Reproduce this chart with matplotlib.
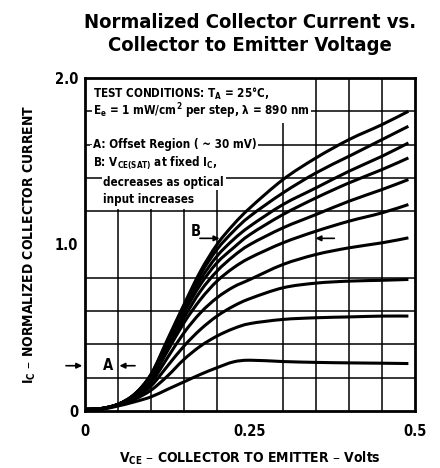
import os
import matplotlib
matplotlib.use("Agg")
import matplotlib.pyplot as plt
from matplotlib import font_manager as fm
from matplotlib.path import Path
from matplotlib.patches import PathPatch, Rectangle
import numpy as np

plt.rcParams['mathtext.default'] = 'regular'

# ---- data ----
vce = [0, 0.025, 0.05, 0.075, 0.1, 0.125, 0.15, 0.175, 0.2, 0.225, 0.25, 0.3, 0.35, 0.4, 0.45, 0.49]

ic_1 = [0.01, 0.015, 0.04, 0.10, 0.22, 0.43, 0.64, 0.84, 1.00, 1.12, 1.22, 1.39, 1.52, 1.63, 1.72, 1.80]
ic_2 = [0.01, 0.015, 0.04, 0.10, 0.22, 0.42, 0.62, 0.82, 0.97, 1.08, 1.17, 1.31, 1.43, 1.53, 1.63, 1.71]
ic_3 = [0.01, 0.015, 0.04, 0.10, 0.215, 0.41, 0.61, 0.79, 0.93, 1.03, 1.11, 1.24, 1.34, 1.44, 1.53, 1.61]
ic_4 = [0.01, 0.015, 0.04, 0.10, 0.21, 0.40, 0.59, 0.76, 0.89, 0.98, 1.06, 1.18, 1.28, 1.37, 1.45, 1.52]
ic_5 = [0.01, 0.015, 0.04, 0.095, 0.20, 0.38, 0.56, 0.72, 0.84, 0.93, 1.00, 1.10, 1.18, 1.26, 1.33, 1.39]
ic_6 = [0.01, 0.015, 0.04, 0.09, 0.19, 0.36, 0.53, 0.67, 0.78, 0.86, 0.92, 1.01, 1.08, 1.14, 1.19, 1.24]
ic_7 = [0.01, 0.015, 0.04, 0.085, 0.17, 0.32, 0.47, 0.59, 0.68, 0.745, 0.79, 0.88, 0.94, 0.98, 1.01, 1.04]
ic_8 = [0.008, 0.013, 0.037, 0.08, 0.15, 0.27, 0.39, 0.49, 0.57, 0.63, 0.675, 0.74, 0.768, 0.78, 0.785, 0.79]
ic_9 = [0.005, 0.012, 0.035, 0.07, 0.125, 0.21, 0.31, 0.39, 0.45, 0.495, 0.525, 0.55, 0.56, 0.565, 0.57, 0.57]
ic_10 = [0.0, 0.01, 0.03, 0.055, 0.085, 0.13, 0.175, 0.22, 0.26, 0.295, 0.305, 0.297, 0.292, 0.289, 0.287, 0.285]
curves = [ic_1, ic_2, ic_3, ic_4, ic_5, ic_6, ic_7, ic_8, ic_9, ic_10]

x_ticks = [0, 0.25, 0.5]
x_ticklabels = ['0', '0.25', '0.5']
y_ticks = [0, 1.0, 2.0]
y_ticklabels = ['0', '1.0', '2.0']

title_text = 'Normalized Collector Current vs.\nCollector to Emitter Voltage'
xlabel_text = r'V$_{CE}$ – COLLECTOR TO EMITTER – Volts'
ylabel_text = r'I$_C$ – NORMALIZED COLLECTOR CURRENT'
note_lines = [r'TEST CONDITIONS: T$_A$ = 25°C,',
              r'E$_e$ = 1 mW/cm$^2$ per step, λ = 890 nm',
              r'A: Offset Region ( ~ 30 mV)',
              r'B: V$_{CE(SAT)}$ at fixed I$_C$,',
              'decreases as optical',
              'input increases']


# ---- font: prefer a condensed / narrow face if installed ----
def find_narrow(bold):
    hits = []
    for f in fm.fontManager.ttflist:
        base = os.path.basename(f.fname).lower()
        if not base.endswith(('.ttf', '.otf')):
            continue
        if ('condensed' in base or 'narrow' in base) and 'mono' not in base \
                and 'oblique' not in base and 'italic' not in base:
            if ('bold' in base) == bold:
                hits.append(f.fname)
    hits.sort(key=lambda p: (0 if 'dejavu' in p.lower() else 1, p))
    return hits[0] if hits else None


bold_file = find_narrow(True)
COND = bold_file is not None


def fp(size):
    if COND:
        return fm.FontProperties(fname=bold_file, size=size)
    return fm.FontProperties(family='DejaVu Sans', weight='bold', size=size * 0.88)


def smooth_path(xs, ys):
    pts = np.column_stack([xs, ys]).astype(float)
    verts = [pts[0]]
    codes = [Path.MOVETO]
    n = len(pts)
    for i in range(n - 1):
        p0 = pts[i - 1] if i > 0 else pts[i]
        p1 = pts[i]
        p2 = pts[i + 1]
        p3 = pts[i + 2] if i + 2 < n else pts[i + 1]
        verts += [p1 + (p2 - p0) / 6.0, p2 - (p3 - p1) / 6.0, p2]
        codes += [Path.CURVE4] * 3
    return Path(verts, codes)


# ---- figure ----
fig = plt.figure(figsize=(4.4, 4.68), dpi=100)
ax = fig.add_axes([85/440, 1-411/468, 330/440, 333/468])
ax.set_xlim(0, 0.5)
ax.set_ylim(0, 2.0)

ax.set_xticks(np.arange(0, 0.5001, 0.05), minor=True)
ax.set_yticks(np.arange(0, 2.0001, 0.2), minor=True)
ax.grid(True, which='minor', color='black', lw=1.1)
ax.set_xticks(x_ticks)
ax.set_xticklabels(x_ticklabels)
ax.set_yticks(y_ticks)
ax.set_yticklabels(y_ticklabels)
ax.tick_params(which='both', length=0)
ax.tick_params(axis='x', pad=9)
ax.tick_params(axis='y', pad=5)
for lab in ax.get_xticklabels() + ax.get_yticklabels():
    lab.set_fontproperties(fp(10.5))
for sp in ax.spines.values():
    sp.set_linewidth(2.0)
    sp.set_zorder(6)

for c in curves:
    ax.add_patch(PathPatch(smooth_path(vce, c), facecolor='none', edgecolor='black',
                           lw=2.2, joinstyle='round', capstyle='butt', zorder=3))

# white area behind the notes (grid hidden there)
wkw = dict(facecolor='white', edgecolor='none', zorder=2.5)
ax.add_patch(Rectangle((0.008, 1.815), 0.325, 0.18, **wkw))
ax.add_patch(Rectangle((0.008, 1.615), 0.262, 0.18, **wkw))
ax.add_patch(Rectangle((0.008, 1.415), 0.222, 0.18, **wkw))
ax.add_patch(Rectangle((0.008, 1.215), 0.19, 0.18, **wkw))

# annotation text block
tkw = dict(color='black', zorder=5, va='center', ha='left',
           bbox=dict(facecolor='white', edgecolor='none', pad=1.0))
ns = 8.4
ax.text(0.012, 1.905, note_lines[0], fontproperties=fp(ns), **tkw)
ax.text(0.012, 1.80, note_lines[1], fontproperties=fp(ns), **tkw)
ax.text(0.012, 1.60, note_lines[2], fontproperties=fp(ns), **tkw)
ax.text(0.012, 1.49, note_lines[3], fontproperties=fp(ns), **tkw)
ax.text(0.028, 1.375, note_lines[4], fontproperties=fp(ns), **tkw)
ax.text(0.028, 1.27, note_lines[5], fontproperties=fp(ns), **tkw)

# A markers
akw = dict(arrowstyle='-|>', color='black', lw=1.2, mutation_scale=8)
ax.annotate('', xy=(0.0, 0.272), xytext=(-0.033, 0.272), arrowprops=akw,
            annotation_clip=False, zorder=6)
ax.text(0.035, 0.272, 'A', fontproperties=fp(10.5), ha='center', va='center', zorder=6)
ax.annotate('', xy=(0.048, 0.272), xytext=(0.08, 0.272), arrowprops=akw, zorder=6)
# B markers
ax.text(0.168, 1.08, 'B', fontproperties=fp(10.5), ha='center', va='center', zorder=6)
ax.annotate('', xy=(0.208, 1.037), xytext=(0.17, 1.037), arrowprops=akw, zorder=6)
ax.annotate('', xy=(0.345, 1.037), xytext=(0.382, 1.037), arrowprops=akw, zorder=6)

ax.set_xlabel(xlabel_text, fontproperties=fp(10), labelpad=8)
ax.set_ylabel(ylabel_text, fontproperties=fp(10), labelpad=12)

fig.text(250/440, 1-34/468, title_text, ha='center', va='center',
         fontproperties=fp(14.5), linespacing=1.3)

fig.savefig('out.png', dpi=100)
